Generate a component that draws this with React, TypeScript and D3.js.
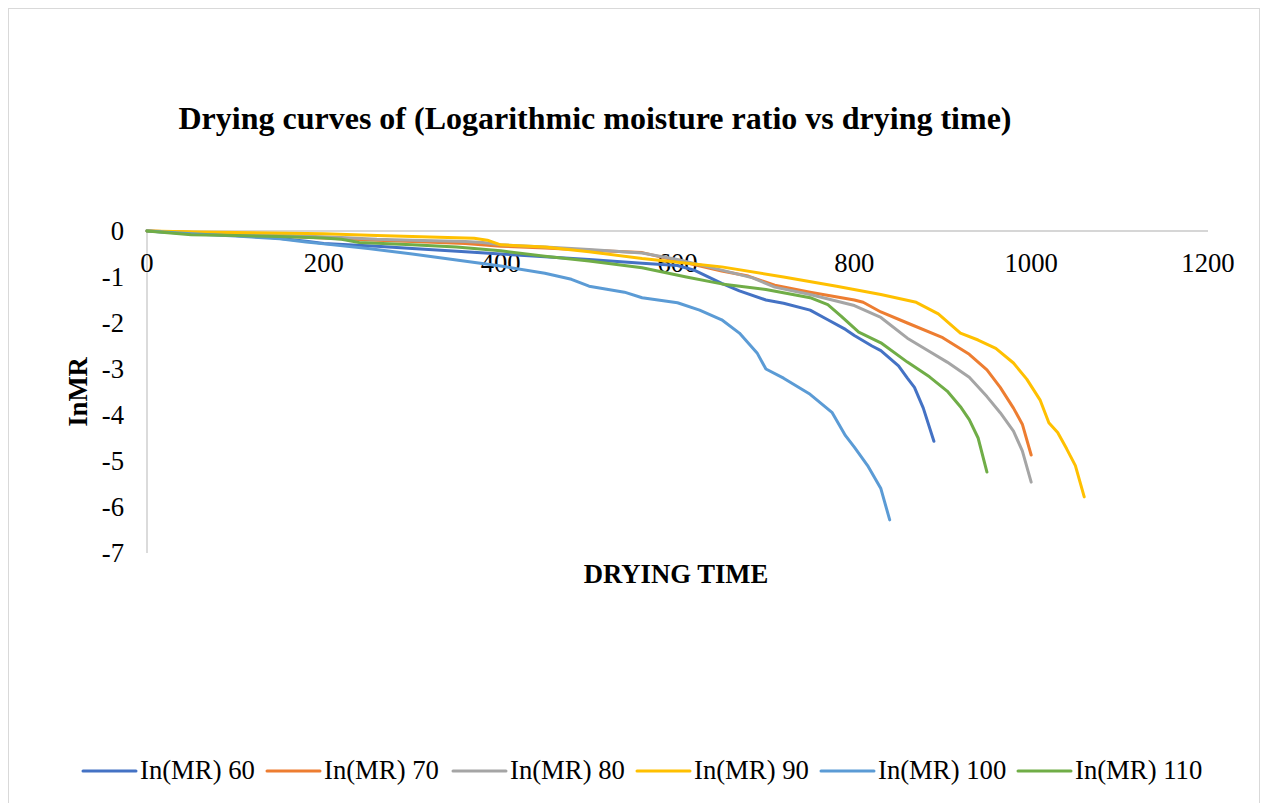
import React from "react";
import * as d3 from "d3";

const xTicks = [0, 200, 400, 600, 800, 1000, 1200];
const yTicks = [0, -1, -2, -3, -4, -5, -6, -7];

const t60 = [0, 20, 60, 100, 140, 180, 200, 260, 300, 360, 400, 450, 500, 560, 600, 620, 650, 670, 700, 720, 750, 770, 790, 800, 820, 830, 850, 860, 868, 878, 890];
const v60 = [0, -0.02, -0.06, -0.1, -0.14, -0.22, -0.27, -0.33, -0.38, -0.45, -0.5, -0.56, -0.62, -0.7, -0.75, -0.86, -1.14, -1.3, -1.5, -1.57, -1.72, -1.93, -2.14, -2.27, -2.5, -2.6, -2.93, -3.2, -3.4, -3.85, -4.57];

const t70 = [0, 60, 100, 140, 200, 260, 300, 360, 400, 450, 500, 560, 600, 650, 680, 710, 750, 800, 810, 830, 860, 900, 930, 950, 965, 980, 990, 1000];
const v70 = [0, -0.04, -0.07, -0.1, -0.15, -0.2, -0.23, -0.27, -0.33, -0.37, -0.42, -0.47, -0.65, -0.87, -0.98, -1.18, -1.33, -1.5, -1.55, -1.76, -2.0, -2.32, -2.68, -3.02, -3.4, -3.85, -4.2, -4.87];

const t80 = [0, 60, 100, 160, 220, 260, 300, 360, 380, 400, 450, 500, 560, 600, 650, 685, 710, 750, 800, 830, 860, 885, 905, 930, 950, 965, 980, 990, 1000];
const v80 = [0, -0.04, -0.06, -0.1, -0.14, -0.18, -0.2, -0.23, -0.25, -0.3, -0.35, -0.4, -0.48, -0.62, -0.85, -1.02, -1.22, -1.38, -1.62, -1.88, -2.33, -2.62, -2.85, -3.18, -3.6, -3.95, -4.35, -4.78, -5.46];

const t90 = [0, 60, 100, 160, 200, 260, 300, 340, 370, 385, 400, 450, 500, 560, 600, 650, 720, 780, 830, 870, 895, 920, 940, 960, 980, 995, 1010, 1020, 1030, 1040, 1050, 1060];
const v90 = [0, -0.02, -0.03, -0.05, -0.06, -0.1, -0.12, -0.14, -0.16, -0.2, -0.3, -0.35, -0.45, -0.6, -0.68, -0.78, -1.0, -1.2, -1.38, -1.55, -1.8, -2.22, -2.37, -2.55, -2.87, -3.22, -3.67, -4.17, -4.38, -4.73, -5.1, -5.78];

const t100 = [0, 50, 100, 150, 180, 200, 250, 300, 350, 400, 450, 480, 500, 540, 560, 600, 625, 650, 670, 690, 700, 720, 750, 775, 790, 800, 815, 830, 840];
const v100 = [0, -0.06, -0.11, -0.17, -0.24, -0.28, -0.38, -0.5, -0.63, -0.76, -0.92, -1.05, -1.2, -1.33, -1.45, -1.56, -1.72, -1.93, -2.22, -2.65, -3.0, -3.2, -3.55, -3.95, -4.45, -4.7, -5.1, -5.6, -6.28];

const t110 = [0, 50, 100, 150, 200, 220, 240, 300, 350, 400, 450, 500, 560, 610, 650, 700, 750, 770, 785, 805, 830, 860, 885, 905, 920, 930, 940, 950];
const v110 = [0, -0.08, -0.1, -0.12, -0.15, -0.18, -0.25, -0.3, -0.35, -0.43, -0.55, -0.65, -0.8, -1.0, -1.15, -1.27, -1.45, -1.6, -1.85, -2.2, -2.43, -2.85, -3.17, -3.48, -3.82, -4.1, -4.5, -5.24];

const seriesNames = ["In(MR) 60", "In(MR) 70", "In(MR) 80", "In(MR) 90", "In(MR) 100", "In(MR) 110"];
const seriesTimes = [t60, t70, t80, t90, t100, t110];
const seriesValues = [v60, v70, v80, v90, v100, v110];
const seriesColors = ["#4472C4", "#ED7D31", "#A5A5A5", "#FFC000", "#5B9BD5", "#70AD47"];
const legendX = [83, 267, 453, 637, 821, 1018];

const FONT = "'Liberation Serif', 'Times New Roman', serif";

export default function App() {
  const x = d3.scaleLinear().domain([0, 1200]).range([147, 1208]);
  const y = d3.scaleLinear().domain([-7, 0]).range([553, 231]);
  const line = d3
    .line<[number, number]>()
    .x((d) => x(d[0]))
    .y((d) => y(d[1]));

  return (
    <svg
      width={1268}
      height={803}
      style={{ position: "absolute", left: 0, top: 0, background: "#fff" }}
      fontFamily={FONT}
    >
      <rect x={0} y={0} width={1268} height={803} fill="#fff" />
      <rect x={8.5} y={8.5} width={1251} height={810} fill="none" stroke="#D9D9D9" strokeWidth={1} />
      <text x={595} y={129} textAnchor="middle" fontSize={32} fontWeight="bold" fill="#000">
        Drying curves of (Logarithmic moisture ratio vs drying time)
      </text>

      {/* axes */}
      <line x1={x(0)} x2={x(1200)} y1={y(0)} y2={y(0)} stroke="#C8C8C8" strokeWidth={1.3} />
      <line x1={x(0)} x2={x(0)} y1={y(0)} y2={y(-7)} stroke="#C8C8C8" strokeWidth={1.3} />

      {xTicks.map((t) => (
        <text key={"x" + t} x={x(t)} y={272} textAnchor="middle" fontSize={26.7} fill="#000">
          {t}
        </text>
      ))}
      {yTicks.map((t) => (
        <text key={"y" + t} x={124} y={y(t)} dy="0.35em" textAnchor="end" fontSize={26.7} fill="#000">
          {t}
        </text>
      ))}

      <text x={676} y={583} textAnchor="middle" fontSize={26.7} fontWeight="bold" fill="#000">
        DRYING TIME
      </text>
      <text
        transform="translate(87,392) rotate(-90)"
        textAnchor="middle"
        fontSize={26.7}
        fontWeight="bold"
        fill="#000"
      >
        InMR
      </text>

      {seriesNames.map((name, i) => {
        const pts: [number, number][] = seriesTimes[i].map((t, j) => [t, seriesValues[i][j]]);
        return (
          <path
            key={name}
            d={line(pts) || ""}
            fill="none"
            stroke={seriesColors[i]}
            strokeWidth={3}
            strokeLinejoin="round"
            strokeLinecap="round"
          />
        );
      })}

      {seriesNames.map((name, i) => (
        <g key={"lg" + name}>
          <line
            x1={legendX[i]}
            x2={legendX[i] + 53}
            y1={771}
            y2={771}
            stroke={seriesColors[i]}
            strokeWidth={3}
            strokeLinecap="round"
          />
          <text x={legendX[i] + 57} y={779} fontSize={26.7} fill="#000">
            {name}
          </text>
        </g>
      ))}
    </svg>
  );
}
